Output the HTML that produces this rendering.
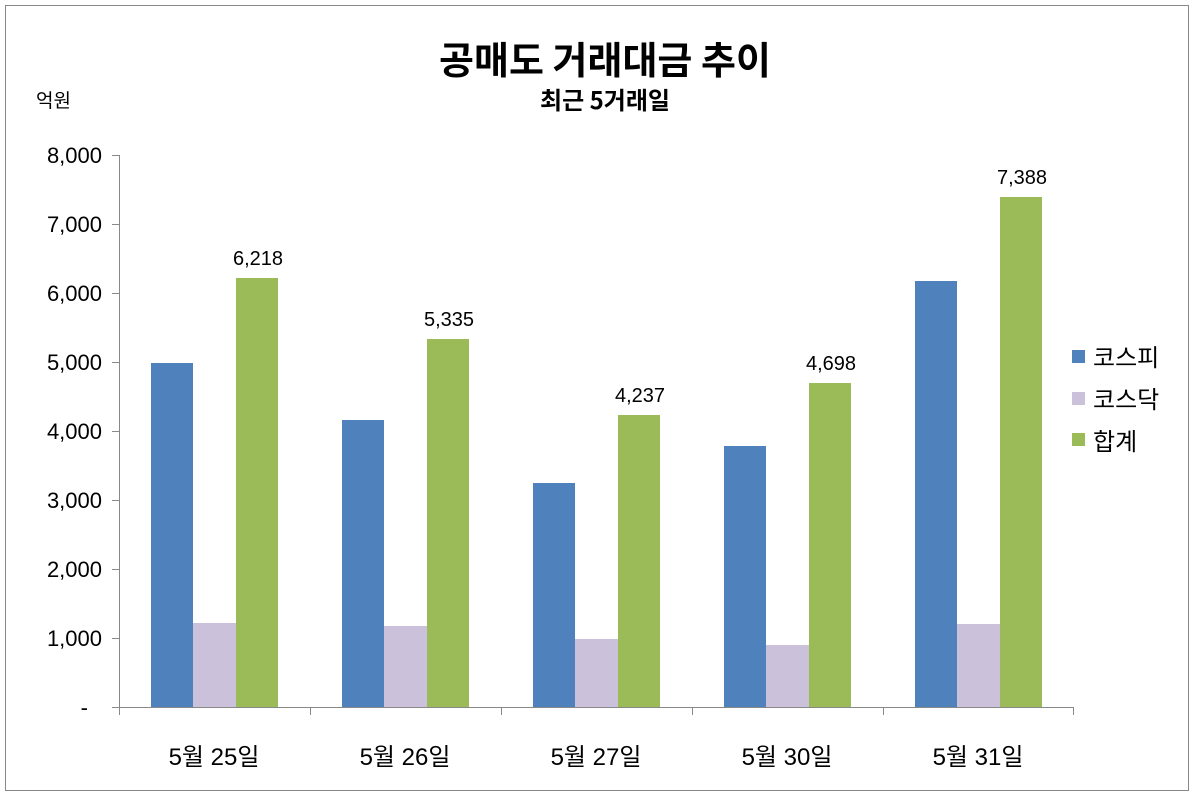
<!DOCTYPE html>
<html><head><meta charset="utf-8"><style>body{margin:0;background:#fff}svg{display:block}</style></head>
<body>
<svg width="1195" height="799" xmlns="http://www.w3.org/2000/svg" font-family="'Liberation Sans','Noto Sans CJK KR',sans-serif">
<rect x="0" y="0" width="1195" height="799" fill="#fff"/>
<rect x="5.5" y="5.5" width="1183" height="785" fill="none" stroke="#888" stroke-width="1"/>
<text x="605" y="74" text-anchor="middle" font-size="38" font-weight="bold" font-family="'Noto Sans CJK KR',sans-serif">공매도 거래대금 추이</text>
<text x="605" y="109" text-anchor="middle" font-size="24" font-weight="bold" font-family="'Noto Sans CJK KR',sans-serif">최근 5거래일</text>
<text x="36" y="107" font-size="19" font-family="'Noto Sans CJK KR',sans-serif">억원</text>
<g stroke="#888" stroke-width="1">
<line x1="119.5" y1="155" x2="119.5" y2="715"/>
<line x1="119" y1="707.5" x2="1074" y2="707.5"/>
<line x1="112" y1="155.5" x2="119" y2="155.5"/><line x1="112" y1="224.5" x2="119" y2="224.5"/>
<line x1="112" y1="293.5" x2="119" y2="293.5"/><line x1="112" y1="362.5" x2="119" y2="362.5"/>
<line x1="112" y1="431.5" x2="119" y2="431.5"/><line x1="112" y1="500.5" x2="119" y2="500.5"/>
<line x1="112" y1="569.5" x2="119" y2="569.5"/><line x1="112" y1="638.5" x2="119" y2="638.5"/>
<line x1="112" y1="707.5" x2="119" y2="707.5"/>
<line x1="310.5" y1="707" x2="310.5" y2="715"/><line x1="501.5" y1="707" x2="501.5" y2="715"/>
<line x1="692.5" y1="707" x2="692.5" y2="715"/><line x1="883.5" y1="707" x2="883.5" y2="715"/>
<line x1="1073.5" y1="707" x2="1073.5" y2="715"/>
</g>
<g font-size="22" text-anchor="end">
<text x="102" y="163">8,000</text><text x="102" y="232">7,000</text><text x="102" y="301">6,000</text>
<text x="102" y="370">5,000</text><text x="102" y="439">4,000</text><text x="102" y="508">3,000</text>
<text x="102" y="577">2,000</text><text x="102" y="646">1,000</text><text x="88" y="715">-</text>
</g>
<g>
<rect x="151" y="363" width="42" height="344" fill="#4f81bd"/><rect x="193" y="623" width="43" height="84" fill="#ccc1da"/><rect x="236" y="278" width="42" height="429" fill="#9bbb59"/>
<rect x="342" y="420" width="42" height="287" fill="#4f81bd"/><rect x="384" y="626" width="43" height="81" fill="#ccc1da"/><rect x="427" y="339" width="42" height="368" fill="#9bbb59"/>
<rect x="533" y="483" width="42" height="224" fill="#4f81bd"/><rect x="575" y="639" width="43" height="68" fill="#ccc1da"/><rect x="618" y="415" width="42" height="292" fill="#9bbb59"/>
<rect x="724" y="446" width="42" height="261" fill="#4f81bd"/><rect x="766" y="645" width="43" height="62" fill="#ccc1da"/><rect x="809" y="383" width="42" height="324" fill="#9bbb59"/>
<rect x="915" y="281" width="42" height="426" fill="#4f81bd"/><rect x="957" y="624" width="43" height="83" fill="#ccc1da"/><rect x="1000" y="197" width="42" height="510" fill="#9bbb59"/>
</g>
<g font-size="20" text-anchor="middle">
<text x="258" y="265">6,218</text><text x="449" y="326">5,335</text><text x="640" y="402">4,237</text>
<text x="831" y="370">4,698</text><text x="1022" y="184">7,388</text>
</g>
<g font-size="24" text-anchor="middle" font-family="'Liberation Sans','Noto Sans CJK KR',sans-serif">
<text x="214" y="765">5월 25일</text><text x="405" y="765">5월 26일</text><text x="596" y="765">5월 27일</text>
<text x="787" y="765">5월 30일</text><text x="978" y="765">5월 31일</text>
</g>
<rect x="1072" y="350" width="13" height="13" fill="#4f81bd"/>
<rect x="1072" y="392" width="13" height="13" fill="#ccc1da"/>
<rect x="1072" y="433" width="13" height="13" fill="#9bbb59"/>
<g font-size="24" font-family="'Noto Sans CJK KR',sans-serif">
<text x="1093" y="366">코스피</text><text x="1093" y="408">코스닥</text><text x="1093" y="450">합계</text>
</g>
</svg>
</body></html>
